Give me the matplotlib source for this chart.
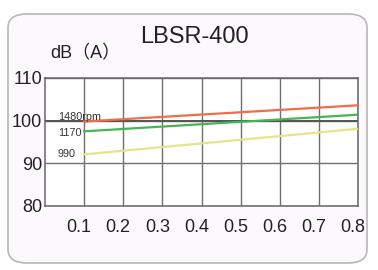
import matplotlib.pyplot as plt
import matplotlib.transforms as mtransforms
from matplotlib.patches import FancyBboxPatch

# data
flow = [0.1, 0.8]
noise_1480 = [99.8, 103.6]
noise_1170 = [97.5, 101.4]
noise_990 = [92.1, 98.1]
labels = ['1480rpm', '1170', '990']
label_y = [100.9, 97.0, 92.2]
x_ticks = [0.1, 0.2, 0.3, 0.4, 0.5, 0.6, 0.7, 0.8]
y_ticks = [80, 90, 100, 110]

plt.rcParams['font.family'] = ['Liberation Sans', 'Noto Sans CJK SC', 'DejaVu Sans']

fig = plt.figure(figsize=(3.78, 2.70), dpi=100)
fig.patch.set_facecolor('white')

# rounded card behind the chart
card = FancyBboxPatch((8/378, 7/270), 359/378, 249/270,
                      boxstyle='round,pad=0,rounding_size=0.05',
                      transform=fig.transFigure, facecolor='#fcf9fc',
                      edgecolor='#b8b8b8', linewidth=1.2, zorder=-5)
fig.patches.append(card)

ax = fig.add_axes([45/378, 64/270, 313/378, 128/270])
ax.set_zorder(2)
ax.set_facecolor('white')

ax.plot(flow, noise_1480, color='#f36c4a', lw=1.6, zorder=3)
ax.plot(flow, noise_1170, color='#45b556', lw=1.6, zorder=3)
ax.plot(flow, noise_990, color='#e6e38a', lw=1.6, zorder=3)

for txt, yy in zip(labels, label_y):
    ax.text(0.033, yy, txt, fontsize=7.8, color='#333333', va='center', ha='left', zorder=4)

ax.set_xlim(0, 0.8)
ax.set_ylim(80, 110)
ax.set_xticks(x_ticks)
ax.set_yticks(y_ticks)
ax.set_xticklabels(['%.1f' % v for v in x_ticks], fontsize=13)
ax.set_yticklabels([str(v) for v in y_ticks], fontsize=13)
ax.tick_params(length=0, pad=9, colors='#222222')
ax.tick_params(axis='y', pad=2)
# x labels sit a little left of the grid lines in the original
shift = mtransforms.ScaledTranslation(-5/100, 0, fig.dpi_scale_trans)
for lab in ax.get_xticklabels():
    lab.set_transform(lab.get_transform() + shift)
ax.grid(True, color='#707070', lw=1.0)
for s in ax.spines.values():
    s.set_color('#666666')
    s.set_linewidth(1.1)
ax.axhline(100, color='#555555', lw=1.4, zorder=2)

fig.text(194/378, 1 - 37/270, 'LBSR-400', fontsize=17, ha='center', va='center', color='#222222')
fig.text(50/378, 1 - 54/270, 'dB（A）', fontsize=13, ha='left', va='center', color='#222222')

fig.savefig('out.png', dpi=100)
